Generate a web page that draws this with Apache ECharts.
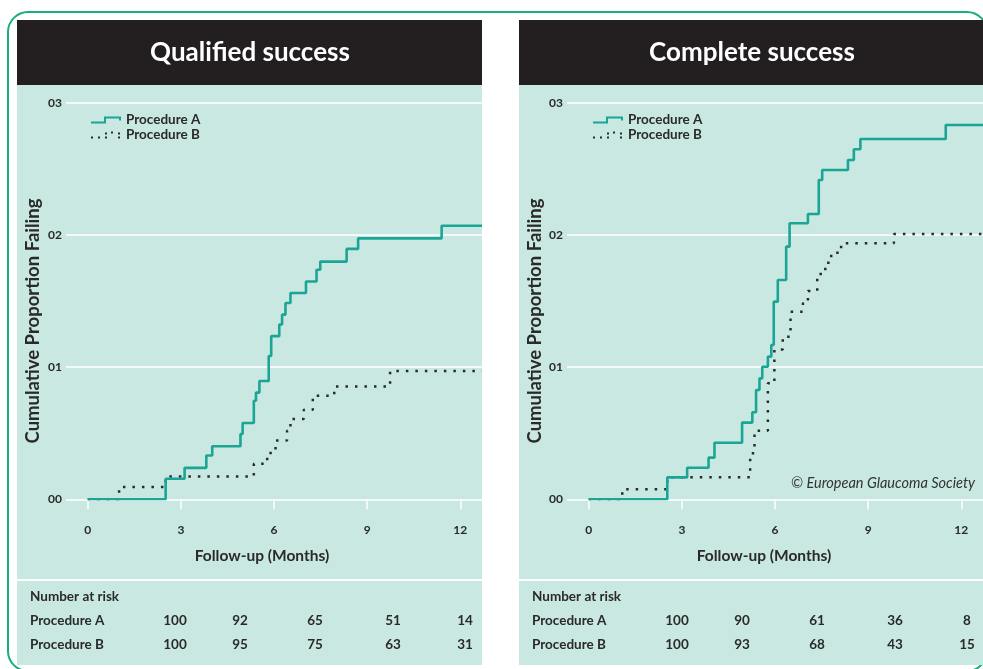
<!DOCTYPE html>
<html>
<head>
<meta charset="utf-8">
<script src="https://cdn.jsdelivr.net/npm/echarts@6/dist/echarts.min.js"></script>
<style>
  html, body { margin: 0; padding: 0; background: #ffffff; }
  #chart { width: 983px; height: 669px; }
</style>
</head>
<body>
<div id="chart"></div>
<script>
// Panel titles, series names and axis ticks
const panelTitles = ['Qualified success', 'Complete success'];
const seriesNames = ['Procedure A', 'Procedure B'];
const xTicks = [0, 3, 6, 9, 12];
const yTickLabels = ['00', '01', '02', '03'];
const xAxisTitle = 'Follow-up (Months)';
const yAxisTitle = 'Cumulative Proportion Failing';
const copyrightText = '\u00A9 European Glaucoma Society';

// Kaplan-Meier steps: [month, cumulative proportion failing]
const qualifiedA = [
  [0, 0], [2.51, 0.0156], [3.12, 0.0238], [3.82, 0.0331], [4.01, 0.0401],
  [4.92, 0.0494], [4.99, 0.0577], [5.35, 0.0745], [5.42, 0.0807], [5.53, 0.0895],
  [5.83, 0.1084], [5.91, 0.1234], [6.17, 0.1322], [6.26, 0.1397], [6.37, 0.1485],
  [6.53, 0.156], [7.03, 0.1648], [7.37, 0.1736], [7.49, 0.1798], [8.34, 0.1894],
  [8.71, 0.1974], [11.4, 0.2069], [12.7, 0.2069]
];
const qualifiedB = [
  [0, 0], [1.01, 0.0093], [2.51, 0.0173], [5.35, 0.0269], [5.78, 0.0351],
  [6.05, 0.0444], [6.42, 0.0519], [6.53, 0.0607], [6.96, 0.0677], [7.25, 0.0783],
  [7.94, 0.0853], [9.74, 0.0971], [12.7, 0.0971]
];
const completeA = [
  [0, 0], [2.53, 0.0166], [3.17, 0.0239], [3.86, 0.0315], [4.05, 0.0428],
  [4.94, 0.058], [5.27, 0.0658], [5.39, 0.0827], [5.5, 0.0915], [5.59, 0.1003],
  [5.77, 0.1079], [5.88, 0.1167], [5.96, 0.1495], [6.09, 0.1659], [6.36, 0.1911],
  [6.47, 0.2088], [7.06, 0.2158], [7.41, 0.2415], [7.52, 0.2491], [8.35, 0.2567],
  [8.54, 0.2648], [8.75, 0.2725], [11.5, 0.2831], [12.7, 0.2831]
];
const completeB = [
  [0, 0], [1.08, 0.0076], [2.53, 0.0166], [5.2, 0.0348], [5.34, 0.0519],
  [5.77, 0.0877], [5.98, 0.1134], [6.25, 0.123], [6.5, 0.1419], [6.9, 0.1483],
  [7.06, 0.1576], [7.36, 0.1704], [7.62, 0.179], [7.81, 0.1865], [8.13, 0.1936],
  [9.83, 0.2007], [12.7, 0.2007]
];

// Number at risk table
const riskTitle = 'Number at risk';
const riskQualifiedA = [100, 92, 65, 51, 14];
const riskQualifiedB = [100, 95, 75, 63, 31];
const riskCompleteA = [100, 90, 61, 36, 8];
const riskCompleteB = [100, 93, 68, 43, 15];

// Styling
const TEAL = '#1ba595';
const DARK = '#2a2a2a';
const MINT = '#c9e8e1';
const FRAME = '#19ad82';
const HEADER = '#231f20';
const FONT = 'Lato, "Open Sans", sans-serif';

const panelX = [17, 519];
const panelW = [465, 466];
const gridLeft = [66, 567];
const gridW = 416;
const gridTop = 102.7;
const gridH = 396.6;
const riskCols = [158, 223, 298, 376, 448];

const pathA = 'path://M0,5H13V0H30V4H28V2H15V7H0Z';
const pathB = 'path://M0,5h2v2h-2z M7,5h2v2h-2z M14,1h2v2h-2z M14,5h2v2h-2z M20,0h2v2h-2z M27,1h2v2h-2z M27,5h2v2h-2z M28,0h2v0.01h-2z';

const panelData = [
  { a: qualifiedA, b: qualifiedB, riskA: riskQualifiedA, riskB: riskQualifiedB },
  { a: completeA, b: completeB, riskA: riskCompleteA, riskB: riskCompleteB }
];

const chart = echarts.init(document.getElementById('chart'), null, { renderer: 'canvas' });

const grids = [], xAxes = [], yAxes = [], series = [], legends = [], graphics = [];

graphics.push({
  type: 'rect', z: -20,
  shape: { x: 8, y: 12, width: 979, height: 659, r: 20 },
  style: { fill: 'none', stroke: FRAME, lineWidth: 2 }
});

function text(x, y, str, opts) {
  const o = Object.assign({ size: 12, weight: 'bold', color: DARK, align: 'left', valign: 'middle', style: 'normal' }, opts || {});
  return {
    type: 'text', z: 20, x: x, y: y, rotation: o.rotation || 0,
    style: {
      text: str, x: 0, y: 0,
      fill: o.color,
      fontSize: o.size, fontWeight: o.weight, fontFamily: FONT, fontStyle: o.style,
      textAlign: o.align, align: o.align,
      textVerticalAlign: o.valign, verticalAlign: o.valign
    }
  };
}

panelData.forEach(function (p, i) {
  const px = panelX[i];
  const pw = panelW[i];
  // panel blocks
  graphics.push({ type: 'rect', z: -10, shape: { x: px, y: 20, width: pw, height: 65 }, style: { fill: HEADER } });
  graphics.push({ type: 'rect', z: -10, shape: { x: px, y: 85, width: pw, height: 494 }, style: { fill: MINT } });
  graphics.push({ type: 'rect', z: -10, shape: { x: px, y: 581, width: pw, height: 84 }, style: { fill: MINT } });
  graphics.push(text(px + 233, 53, panelTitles[i], { size: 26, color: '#ffffff', align: 'center' }));
  graphics.push(text(px + 16, 321, yAxisTitle, { size: 18.5, rotation: Math.PI / 2, align: 'center' }));
  graphics.push(text(px + 245, 556, xAxisTitle, { size: 15.5, align: 'center' }));

  // number at risk table
  graphics.push(text(px + 13, 597, riskTitle, { size: 13.5 }));
  graphics.push(text(px + 13, 621, seriesNames[0], { size: 13.5 }));
  graphics.push(text(px + 13, 645, seriesNames[1], { size: 13.5 }));
  p.riskA.forEach(function (v, k) { graphics.push(text(px + riskCols[k], 621, String(v), { size: 13.5, align: 'center' })); });
  p.riskB.forEach(function (v, k) { graphics.push(text(px + riskCols[k], 645, String(v), { size: 13.5, align: 'center' })); });

  grids.push({ left: gridLeft[i], top: gridTop, width: gridW, height: gridH, containLabel: false });

  xAxes.push({
    gridIndex: i, type: 'value', min: -0.7, max: 12.7, offset: 9,
    axisLine: { show: false },
    splitLine: { show: false },
    axisTick: { show: true, customValues: xTicks, length: 10, lineStyle: { color: '#ffffff', width: 1.5 } },
    axisLabel: { show: true, customValues: xTicks, margin: 16, color: DARK, fontSize: 12, fontWeight: 'bold', fontFamily: FONT }
  });
  yAxes.push({
    gridIndex: i, type: 'value', min: 0, max: 0.3, interval: 0.1,
    axisLine: { show: false }, axisTick: { show: false },
    splitLine: { show: true, lineStyle: { color: '#ffffff', width: 1.5 } },
    axisLabel: {
      margin: 4, color: DARK, fontSize: 12, fontWeight: 'bold', fontFamily: FONT,
      formatter: function (v) { return yTickLabels[Math.round(v * 10)]; }
    }
  });

  series.push({
    name: seriesNames[1], type: 'line', xAxisIndex: i, yAxisIndex: i, step: 'end',
    data: p.b, symbol: 'none', color: DARK, z: 3,
    itemStyle: { color: DARK },
    lineStyle: { color: DARK, width: 2.5, type: [2.5, 7], cap: 'butt' }
  });
  series.push({
    name: seriesNames[0], type: 'line', xAxisIndex: i, yAxisIndex: i, step: 'end',
    data: p.a, symbol: 'none', color: TEAL, z: 4,
    itemStyle: { color: TEAL },
    lineStyle: { color: TEAL, width: 2.6 }
  });

  legends.push({
    left: [86, 588][i], top: 108, orient: 'vertical',
    itemWidth: 30, itemHeight: 7, itemGap: 1,
    selectedMode: false,
    itemStyle: { borderWidth: 0 },
    textStyle: { color: DARK, fontSize: 13.5, fontWeight: 'bold', fontFamily: FONT, lineHeight: 14 },
    data: [{ name: seriesNames[0], icon: pathA }, { name: seriesNames[1], icon: pathB }]
  });
});

graphics.push(text(975, 483, copyrightText, { size: 14.5, weight: 'normal', style: 'italic', align: 'right', color: '#333333' }));

chart.setOption({
  animation: false,
  backgroundColor: '#ffffff',
  grid: grids,
  xAxis: xAxes,
  yAxis: yAxes,
  legend: legends,
  series: series,
  graphic: { elements: graphics }
});
</script>
</body>
</html>
